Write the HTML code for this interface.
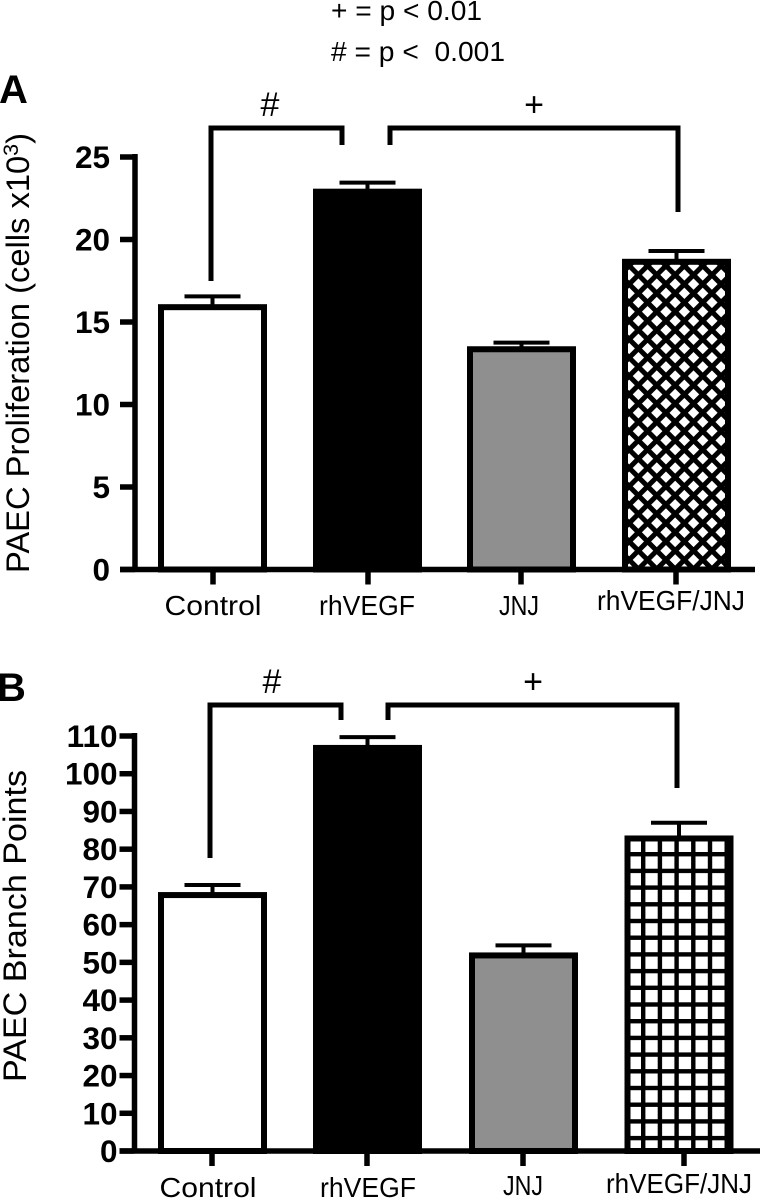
<!DOCTYPE html>
<html lang="en">
<head>
<meta charset="utf-8">
<title>PAEC proliferation and branch points</title>
<style>
html,body{margin:0;padding:0;background:#fff;width:760px;height:1198px;overflow:hidden}
svg{display:block}
text{font-family:"Liberation Sans",sans-serif;fill:#000}
.tick{font-weight:bold;font-size:31.5px}
.cat{font-size:28px}
.title{font-size:32px}
.note{font-size:28px}
.sig{font-size:34px}
.panel{font-weight:bold;font-size:40px}
</style>
</head>
<body>
<svg id="fig" xmlns="http://www.w3.org/2000/svg" width="760" height="1198" viewBox="0 0 760 1198">
<defs>
<pattern id="hatch-diamond" width="13" height="13" patternUnits="userSpaceOnUse" patternTransform="translate(620 253) rotate(45)">
<rect width="13" height="13" fill="#fff"/>
<rect width="5" height="13" fill="#000"/>
<rect width="13" height="5" fill="#000"/>
</pattern>
<pattern id="hatch-grid" width="16.7" height="16.7" patternUnits="userSpaceOnUse" patternTransform="translate(624.3 835.3)">
<rect width="16.7" height="16.7" fill="#fff"/>
<rect width="4.4" height="16.7" fill="#000"/>
<rect width="16.7" height="4.4" fill="#000"/>
</pattern>
</defs>
<text class="note" x="331" y="20" textLength="151" lengthAdjust="spacingAndGlyphs">+ = p &lt; 0.01</text>
<text class="note" x="331" y="61" xml:space="preserve" textLength="174" lengthAdjust="spacingAndGlyphs"># = p &lt;  0.001</text>
<text class="panel" x="-1" y="103">A</text>
<text class="panel" x="-3" y="701">B</text>
<text class="title" transform="translate(29 573) rotate(-90)" textLength="440" lengthAdjust="spacingAndGlyphs">PAEC Proliferation (cells x10<tspan dy="-11" font-size="21">3</tspan><tspan dy="11">)</tspan></text>
<text class="title" transform="translate(26 1082) rotate(-90)" textLength="312" lengthAdjust="spacingAndGlyphs">PAEC Branch Points</text>
<g id="marks"></g>
<g id="chrome"></g>
<path d="M211 281V128H342V145" fill="none" stroke="#000" stroke-width="5"/>
<path d="M390 145V128H678V212" fill="none" stroke="#000" stroke-width="5"/>
<path d="M210 858V705H341V720" fill="none" stroke="#000" stroke-width="5"/>
<path d="M388 720V705H677V788" fill="none" stroke="#000" stroke-width="5"/>
<text class="sig" x="270" y="116" text-anchor="middle">#</text>
<text class="sig" x="534" y="116" text-anchor="middle">+</text>
<text class="sig" x="272" y="693" text-anchor="middle">#</text>
<text class="sig" x="533" y="693" text-anchor="middle">+</text>
</svg>
<script>
const categories = ['Control', 'rhVEGF', 'JNJ', 'rhVEGF/JNJ'];
const proliferationValues = [16.05, 23.05, 13.5, 18.8];
const proliferationErrors = [0.5, 0.4, 0.25, 0.5];
const proliferationTicks = [0, 5, 10, 15, 20, 25];
const branchValues = [68.5, 107.5, 52.5, 83.5];
const branchErrors = [2.0, 2.2, 2.0, 3.5];
const branchTicks = [0, 10, 20, 30, 40, 50, 60, 70, 80, 90, 100, 110];

const NS = 'http://www.w3.org/2000/svg';
const marks = document.getElementById('marks');
const chrome = document.getElementById('chrome');

function el(parent, tag, attrs, txt) {
  const e = document.createElementNS(NS, tag);
  for (const k in attrs) e.setAttribute(k, attrs[k]);
  if (txt !== undefined) e.textContent = txt;
  parent.appendChild(e);
  return e;
}

function drawPanel(cfg) {
  const y = v => cfg.y0 - (v / cfg.max) * (cfg.y0 - cfg.yTop);
  const x = i => cfg.centers[i];
  cfg.values.forEach((v, i) => {
    const cx = x(i);
    const top = y(v);
    const capY = y(v + cfg.errors[i]);
    const stem = el(marks, 'line', {x1: cx, x2: cx, y1: capY, y2: top, stroke: '#000', 'stroke-width': 4});
    
    
    const cap = el(marks, 'line', {x1: cx - 28, x2: cx + 28, y1: capY, y2: capY, stroke: '#000', 'stroke-width': 4});
    
    
    const bar = el(marks, 'rect', {
      x: cx - cfg.barW / 2, y: top + 2.5, width: cfg.barW, height: cfg.y0 - top - 2.5,
      fill: cfg.fills[i], stroke: '#000', 'stroke-width': 6
    });
    
    
  });
  const axisPath = el(chrome, 'path', {
    d: 'M' + cfg.axisX + ' ' + (cfg.y0 + 2) + 'V' + (y(cfg.max) - 3),
    fill: 'none', stroke: '#000', 'stroke-width': 5.5
  });
  
  
  const base = el(chrome, 'line', {x1: cfg.axisX - 15, x2: cfg.baseEnd, y1: cfg.y0, y2: cfg.y0, stroke: '#000', 'stroke-width': 5.5});
  
  
  cfg.ticks.forEach(t => {
    const ty = y(t);
    const tick = el(chrome, 'line', {x1: cfg.axisX - 15, x2: cfg.axisX, y1: ty, y2: ty, stroke: '#000', 'stroke-width': 5.5});
    
    
    const label = el(chrome, 'text', {class: 'tick', x: cfg.labelEnd, y: ty + 11, 'text-anchor': 'end'}, String(t));
    
    
  });
  categories.forEach((c, i) => {
    const tx = cfg.tickX[i];
    const tick = el(chrome, 'line', {x1: tx, x2: tx, y1: cfg.y0, y2: cfg.y0 + 15, stroke: '#000', 'stroke-width': 5.5});
    
    
    const label = el(chrome, 'text', {
      class: 'cat', x: cfg.labelX[i], y: cfg.labelY[i], 'text-anchor': 'middle',
      textLength: cfg.labelW[i], lengthAdjust: 'spacingAndGlyphs'
    }, c);
    
    
  });
}

drawPanel({
  y0: 569.5, yTop: 157, max: 25, axisX: 135, baseEnd: 755, barW: 103, labelEnd: 110,
  centers: [212.5, 367.5, 521.5, 676.5],
  tickX: [213, 368, 521, 676],
  labelX: [213, 367, 519, 671],
  labelY: [615, 615, 615, 610],
  labelW: [97, 96, 40, 148],
  values: proliferationValues, errors: proliferationErrors, ticks: proliferationTicks,
  fills: ['#fff', '#000', '#8f8f8f', 'url(#hatch-diamond)']
});
drawPanel({
  y0: 1151, yTop: 736, max: 110, axisX: 134.5, baseEnd: 760, barW: 103, labelEnd: 117.5,
  centers: [212.5, 367.5, 523.5, 679],
  tickX: [212, 367, 523, 684],
  labelX: [208, 368, 523, 679],
  labelY: [1197, 1197, 1195, 1193],
  labelW: [97, 96, 40, 146],
  values: branchValues, errors: branchErrors, ticks: branchTicks,
  fills: ['#fff', '#000', '#8f8f8f', 'url(#hatch-grid)']
});
</script>
</body>
</html>
